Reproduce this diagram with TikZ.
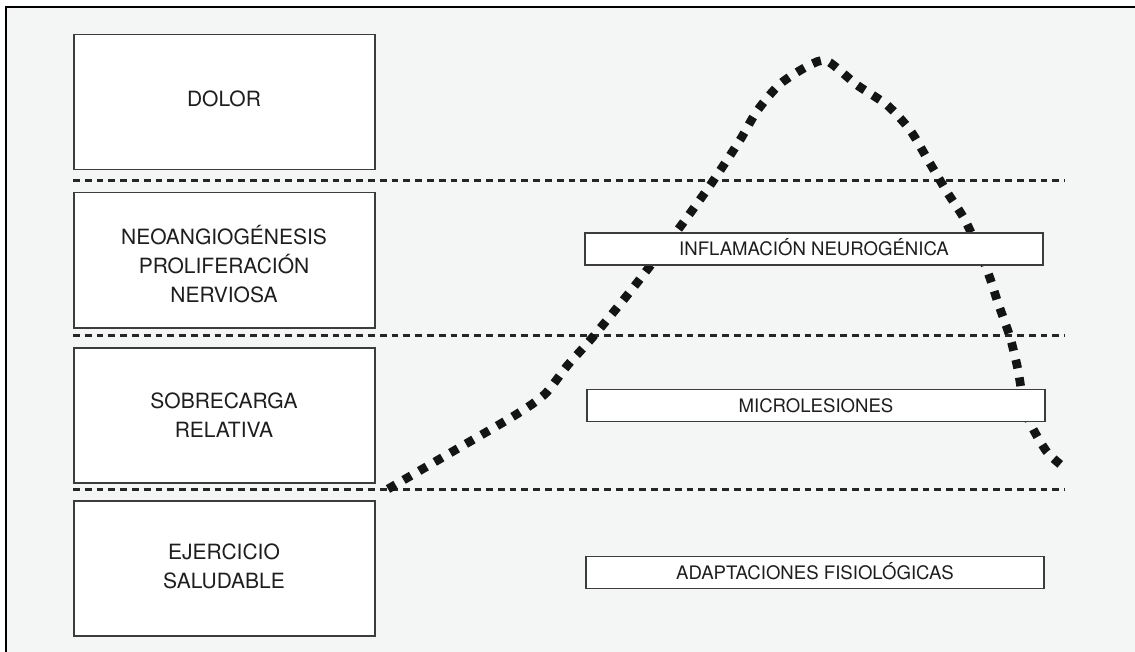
\documentclass[tikz,border=0pt]{standalone}
\usepackage{fontspec}
\setmainfont{TeX Gyre Heros}
\definecolor{bgc}{HTML}{F4F5F5}
\definecolor{boxc}{HTML}{3C3C3C}
\definecolor{textc}{HTML}{1E1E1E}
\definecolor{linec}{HTML}{262626}
\definecolor{curvec}{HTML}{141414}
\begin{document}
\begin{tikzpicture}[x=1pt,y=-1pt,
  lbox/.style={draw=boxc, line width=1.5pt, fill=white, minimum width=301pt, minimum height=135pt, inner sep=0pt, anchor=north west},
  ltext/.style={text=textc, align=center, font=\fontsize{21}{29}\selectfont, inner sep=0pt},
  rbox/.style={draw=boxc, line width=1.5pt, fill=white, minimum width=458pt, minimum height=32pt, inner sep=0pt,
     text=textc, font=\fontsize{18.6}{22}\selectfont, text height=13.4pt, text depth=0pt},
  dashline/.style={draw=linec, line width=3pt, dash pattern=on 6.8pt off 5pt},
  dotcurve/.style={draw=curvec, line width=8.7pt, dash pattern=on 8.7pt off 9.3pt, line cap=butt}
]
\useasboundingbox (0,0) rectangle (1135,652);
\fill[white] (0,0) rectangle (1135,652);
\fill[bgc] (6,7) rectangle (1140,660);
\draw[line width=2pt, black] (1140,7) -- (6,7) -- (6,660);

% left category boxes
\node[lbox] (b1) at (73,34) {};
\node[lbox] (b2) at (73,192) {};
\node[lbox] (b3) at (73,347) {};
\node[lbox] (b4) at (73,500) {};
\node[ltext] (t1) at (224,99) {DOLOR};
\node[ltext] (t2) at (224,264) {NEOANGIOGÉNESIS\\PROLIFERACIÓN\\NERVIOSA};
\node[ltext] (t3) at (224,415) {SOBRECARGA\\RELATIVA};
\node[ltext] (t4) at (224,566) {EJERCICIO\\SALUDABLE};

% dashed separators
\coordinate (d1a) at (73,181);  \coordinate (d1b) at (1065,181);
\coordinate (d2a) at (73,335);  \coordinate (d2b) at (1065,335);
\coordinate (d3a) at (73,489);  \coordinate (d3b) at (1065,489);
\draw[dashline] (d1a) -- (d1b);
\draw[dashline] (d2a) -- (d2b);
\draw[dashline] (d3a) -- (d3b);

% dotted curve
\draw[dotcurve] plot[smooth, tension=0.45] coordinates {
 (388,489) (457,449) (517,414) (545,394) (567,366) (592,338) (625,298)
 (647,270) (680,227) (711,184) (740,140) (757,111) (780,84) (808,66)
 (827,61) (857,85) (887,105) (910,130) (928,160) (947,192) (966,222)
 (987,270) (998,303) (1010,337) (1018,370) (1023,400) (1030,423)
 (1047,452) (1066,469)};

% right boxes
\node[rbox] (r1) at (814,249) {INFLAMACIÓN NEUROGÉNICA};
\node[rbox] (r2) at (816,405.5) {MICROLESIONES};
\node[rbox] (r3) at (815,572.5) {ADAPTACIONES FISIOLÓGICAS};
\end{tikzpicture}
\end{document}
